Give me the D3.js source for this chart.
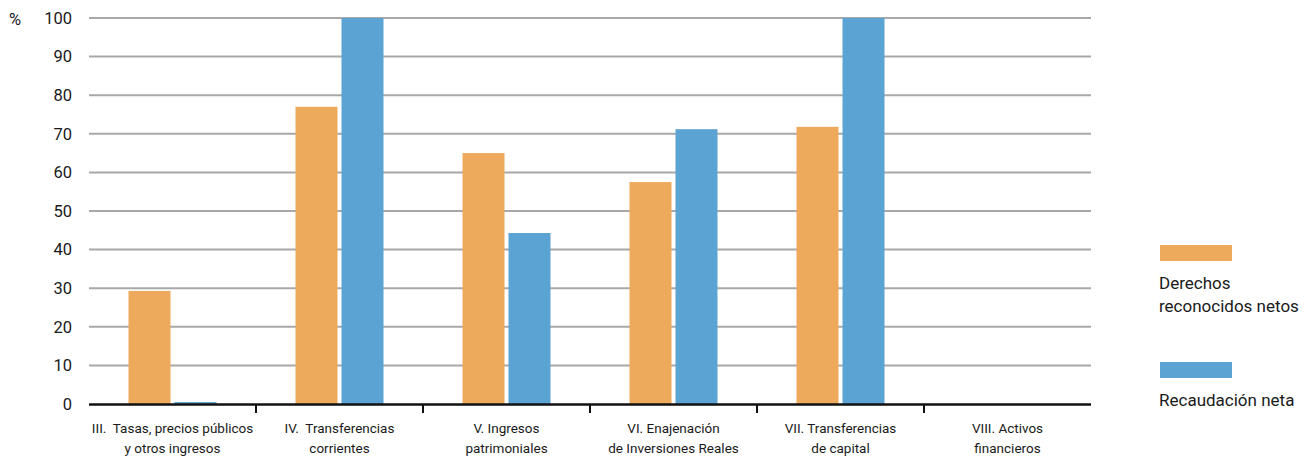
<!DOCTYPE html>
<html><head><meta charset="utf-8">
<script src="https://cdn.jsdelivr.net/npm/d3@7"></script>
<style>body{margin:0;background:#fff;} svg{display:block;font-family:Roboto, "DejaVu Sans", sans-serif;} text{white-space:pre;}</style>
</head><body>
<svg id="c" width="1312" height="457"></svg>
<script>
const categories = [
  ["III.  Tasas, precios públicos", "y otros ingresos"],
  ["IV.  Transferencias", "corrientes"],
  ["V. Ingresos", "patrimoniales"],
  ["VI. Enajenación", "de Inversiones Reales"],
  ["VII. Transferencias", "de capital"],
  ["VIII. Activos", "financieros"]
];
const derechos = [29.3, 77.0, 65.0, 57.5, 71.8, 0];
const recaudacion = [0.5, 100, 44.3, 71.2, 100, 0];
const seriesNames = [["Derechos", "reconocidos netos"], ["Recaudación neta"]];
const yTicks = [0,10,20,30,40,50,60,70,80,90,100];
const colors = ["#EDA95C", "#5BA3D3"];

const svg = d3.select("#c");
const x0 = 89, x1 = 1091, yTop = 18, yBot = 404;
const x = d3.scaleBand().domain(d3.range(categories.length)).range([x0, x1]);
const y = d3.scaleLinear().domain([0, 100]).range([yBot, yTop]);

// gridlines
svg.append("g").selectAll("line").data(yTicks.filter(d => d > 0)).join("line")
  .attr("x1", x0).attr("x2", x1).attr("y1", d => y(d)).attr("y2", d => y(d))
  .attr("stroke", "#a8a8a8").attr("stroke-width", 2);

// y labels
svg.append("g").selectAll("text").data(yTicks).join("text")
  .attr("x", 72).attr("y", d => y(d)).attr("dy", "0.35em")
  .attr("text-anchor", "end").attr("font-size", 16.5).attr("fill", "#1a1a1a")
  .text(d => d);
svg.append("text").attr("x", 9).attr("y", y(100)).attr("dy", "0.4em")
  .attr("font-size", 16.5).attr("fill", "#1a1a1a").text("%");

// bars
const barW = 42, gap = 4;
const g = svg.append("g");
categories.forEach((c, i) => {
  const cx = x(i) + x.bandwidth() / 2;
  if (derechos[i] > 0)
    g.append("rect").attr("x", cx - gap/2 - barW).attr("width", barW)
      .attr("y", y(derechos[i])).attr("height", yBot - y(derechos[i])).attr("fill", colors[0]);
  if (recaudacion[i] > 0)
    g.append("rect").attr("x", cx + gap/2).attr("width", barW)
      .attr("y", y(recaudacion[i])).attr("height", yBot - y(recaudacion[i])).attr("fill", colors[1]);
});

// baseline and ticks
svg.append("line").attr("x1", x0).attr("x2", x1).attr("y1", yBot + 0.5).attr("y2", yBot + 0.5)
  .attr("stroke", "#111").attr("stroke-width", 2.5);
svg.append("g").selectAll("line").data(d3.range(1, categories.length)).join("line")
  .attr("x1", d => x(d)).attr("x2", d => x(d)).attr("y1", yBot).attr("y2", yBot + 9)
  .attr("stroke", "#111").attr("stroke-width", 2);

// x labels
const xl = svg.append("g").selectAll("text").data(categories).join("text")
  .attr("text-anchor", "middle").attr("font-size", 13.5).attr("fill", "#1a1a1a")
  .attr("x", (d, i) => x(i) + x.bandwidth() / 2);
xl.each(function(d) {
  d3.select(this).selectAll("tspan").data(d).join("tspan")
    .attr("x", d3.select(this).attr("x")).attr("y", (t, j) => 433 + j * 20).text(t => t);
});

// legend
const legY = [245, 362];
seriesNames.forEach((lines, k) => {
  svg.append("rect").attr("x", 1160).attr("y", legY[k]).attr("width", 72).attr("height", 16).attr("fill", colors[k]);
  lines.forEach((t, j) => {
    svg.append("text").attr("x", 1159).attr("y", legY[k] + 44 + j * 23)
      .attr("font-size", 17).attr("fill", "#1a1a1a").text(t);
  });
});
</script>
</body></html>
